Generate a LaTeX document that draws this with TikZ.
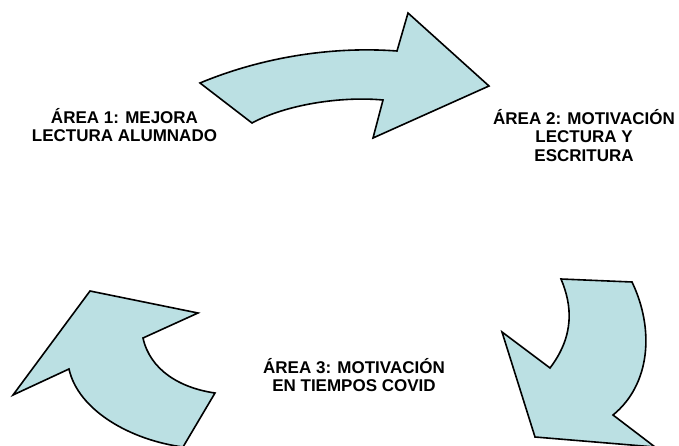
\documentclass[tikz,border=0pt]{standalone}
\usepackage{fontspec}
\setmainfont{Liberation Sans}
\definecolor{arrowfill}{RGB}{187,224,227}
\begin{document}
\begin{tikzpicture}[x=1pt,y=-1pt,
  cyclearrow/.style={draw=black,line width=1.6pt,fill=arrowfill,line join=miter},
  arealabel/.style={align=center,inner sep=0pt,anchor=base,font=\bfseries\fontsize{17}{18.6}\selectfont}]
\useasboundingbox (0,0) rectangle (679,446);
\begin{scope}
\clip (0,0) rectangle (679,446);
% top arrow
\draw[cyclearrow] (200,83) .. controls (260,58) and (330,46) .. (397,51) -- (408,13) -- (489,86) -- (373,138) -- (383,100) .. controls (340,96) and (285,105) .. (252,123) -- cycle;
% right arrow
\draw[cyclearrow] (561,279) -- (632,282) .. controls (655,330) and (650,385) .. (613,415) -- (655,447) -- (535,437) -- (502,332) -- (550,368) .. controls (575,335) and (572,305) .. (561,279) -- cycle;
% left arrow
\draw[cyclearrow] (90,291) -- (198,313) -- (143,338) .. controls (150,370) and (180,388) .. (215,393) -- (183,447) .. controls (130,440) and (78,410) .. (69,369) -- (13,395) -- cycle;
\end{scope}
\node[arealabel] (a1) at (124.5,141.7) {ÁREA 1: MEJORA\\LECTURA ALUMNADO};
\node[arealabel] (a2) at (584,161.5) {ÁREA 2: MOTIVACIÓN\\LECTURA Y\\ESCRITURA};
\node[arealabel] (a3) at (354,391.7) {ÁREA 3: MOTIVACIÓN\\EN TIEMPOS COVID};
\end{tikzpicture}
\end{document}
